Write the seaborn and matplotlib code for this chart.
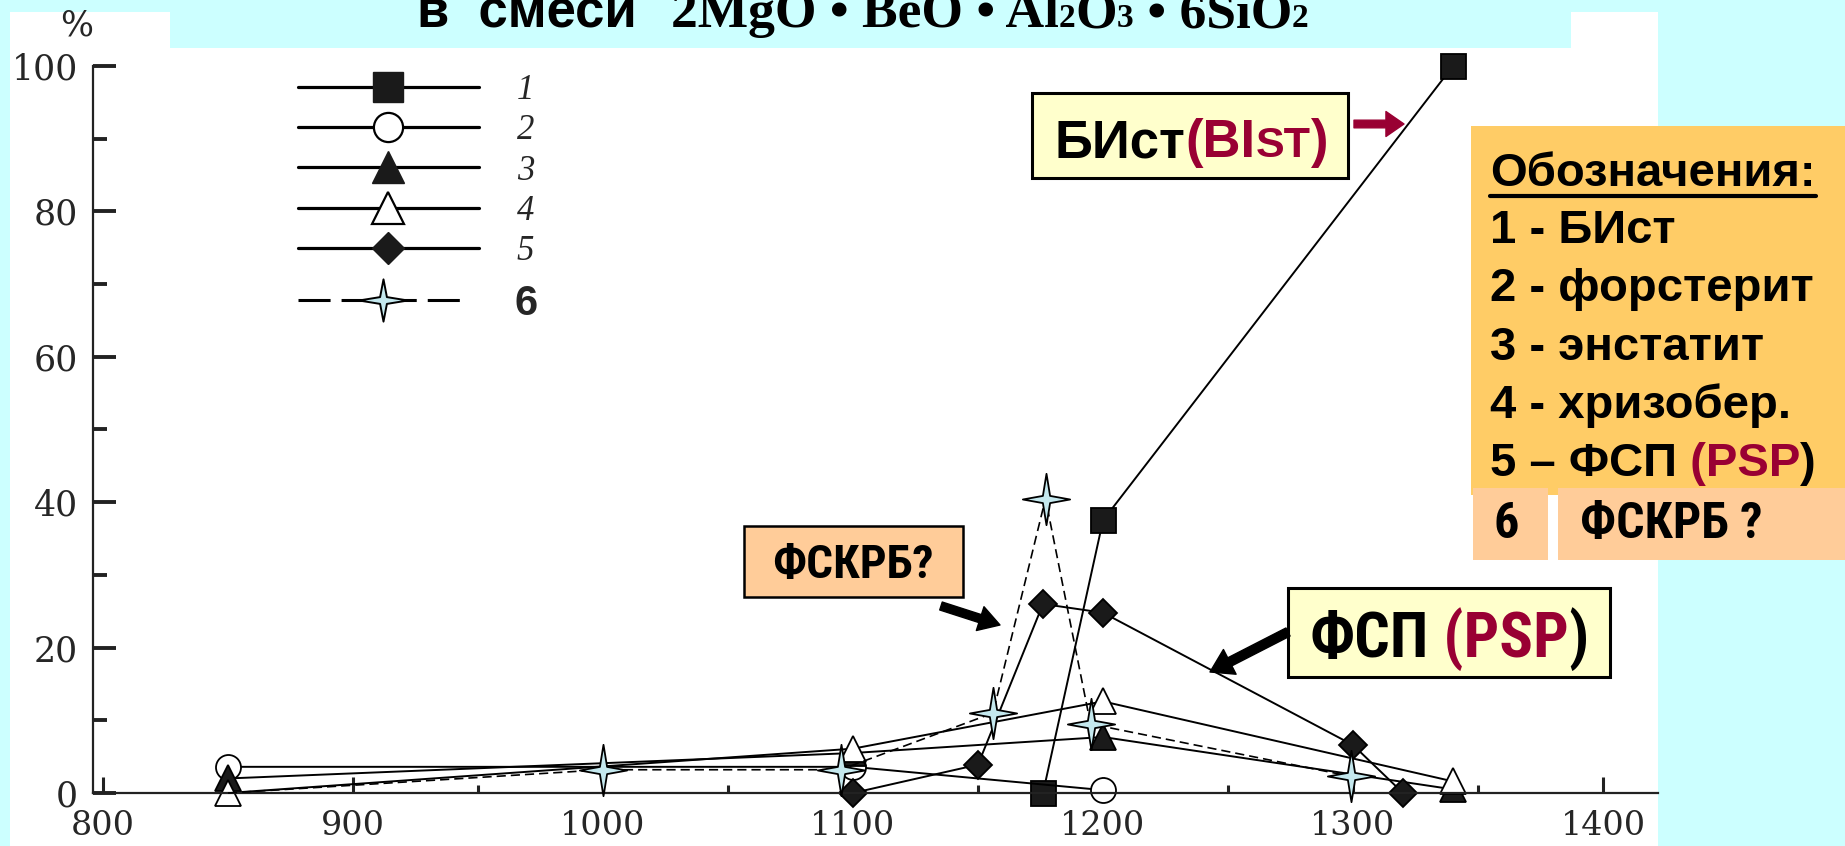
import matplotlib
matplotlib.use("Agg")
import numpy as np
import seaborn as sns
import matplotlib.pyplot as plt
from matplotlib.lines import Line2D
from matplotlib.patches import Rectangle, FancyArrowPatch
from matplotlib.path import Path
from matplotlib import font_manager

W, H = 1845, 846

# --- data (temperature, %) ---
t_bist = [1176, 1200, 1340]
bist = [0, 37.5, 100]
t_forst = [850, 1100, 1200]
forst = [3.6, 3.6, 0.4]
t_enst = [850, 1100, 1200, 1340]
enst = [2.0, 5.5, 7.7, 0.5]
t_chrys = [850, 1100, 1200, 1340]
chrys = [0, 6.1, 12.6, 1.6]
t_psp = [1100, 1150, 1176, 1200, 1300, 1320]
psp = [0, 3.9, 26.0, 24.8, 6.6, 0]
# first point (850) is the start of the dashed line only, no star drawn there
t_fskrb = [850, 1000, 1095, 1156, 1177, 1195, 1299]
fskrb = [0, 3.2, 3.2, 11.0, 40.5, 9.5, 2.3]

legend_labels = ["1", "2", "3", "4", "5", "6"]
key_lines = ["1 - БИст", "2 - форстерит", "3 - энстатит", "4 - хризобер."]
x_ticks = [800, 900, 1000, 1100, 1200, 1300, 1400]
y_ticks = [0, 20, 40, 60, 80, 100]

CYAN = "#CCFFFF"
CRIMSON = "#990033"
YELLOW = "#FFFFCC"
PEACH = "#FFCC99"
ORANGE = "#FFCC66"
STARBLUE = "#C4E8EE"
DARK = "#1a1a1a"

sns.set_style("ticks")
plt.rcParams["font.family"] = ["DejaVu Serif"]

names = {f.name for f in font_manager.fontManager.ttflist}
NARROW = "Liberation Sans"
for cand in ["Liberation Sans Narrow", "Roboto Condensed", "Arial Narrow"]:
    if cand in names:
        NARROW = cand
        break


def star_path(wx, wy, s=0.14):
    v = [(0, wy), (s, s), (wx, 0), (s, -s), (0, -wy), (-s, -s), (-wx, 0), (-s, s), (0, wy)]
    c = [Path.MOVETO] + [Path.LINETO] * 7 + [Path.CLOSEPOLY]
    return Path(v, c)


STAR = star_path(0.92, 1.0)
STAR_LEG = star_path(1.0, 0.87)

fig = plt.figure(figsize=(W / 100, H / 100), dpi=100, facecolor=CYAN)


def fx(px):
    return px / W


def fy(py):
    return 1 - py / H


def box(x0, y0, x1, y1, fc, ec="none", lw=0, z=1):
    r = Rectangle((fx(x0), fy(y1)), (x1 - x0) / W, (y1 - y0) / H,
                  transform=fig.transFigure, facecolor=fc, edgecolor=ec,
                  linewidth=lw, zorder=z)
    fig.add_artist(r)


def rich(x_px, y_px, pieces, ha="left", **common):
    r = fig.canvas.get_renderer()
    texts, widths = [], []
    for s, kw in pieces:
        if isinstance(s, (int, float)):
            texts.append(None)
            widths.append(s)
            continue
        t = fig.text(0, fy(y_px), s, va="baseline", ha="left", **{**common, **kw})
        texts.append(t)
        widths.append(t.get_window_extent(r).width)
    total = sum(widths)
    cur = x_px - (total / 2 if ha == "center" else 0)
    start = cur
    for t, w in zip(texts, widths):
        if t is not None:
            t.set_x(fx(cur))
        cur += w
    return start, total


# background panels
box(10, 12, 1658, 846, "white", z=-10)
box(170, 0, 1571, 48, CYAN, z=-9)

ax = fig.add_axes([fx(93), fy(793), (1658 - 93) / W, (793 - 66) / H])
ax.set_facecolor("none")


def draw(x, y, **kw):
    sns.lineplot(x=x, y=y, ax=ax, estimator=None, sort=False, legend=False,
                 color="black", linewidth=1.4, clip_on=False,
                 markeredgecolor="black", markeredgewidth=1.3, **kw)
    return ax.lines[-1]


draw(t_bist, bist, marker="s", markersize=18, markerfacecolor=DARK)
draw(t_forst, forst, marker="o", markersize=18, markerfacecolor="white")
draw(t_enst, enst, marker="^", markersize=19, markerfacecolor=DARK)
draw(t_chrys, chrys, marker="^", markersize=19, markerfacecolor="white")
draw(t_psp, psp, marker="D", markersize=14.5, markerfacecolor=DARK)
ln = draw(t_fskrb, fskrb, marker=STAR, markersize=37, markerfacecolor=STARBLUE,
          linestyle="--", zorder=3, markevery=list(range(1, len(t_fskrb))))
ln.set_linewidth(1.2)
ln.set_dashes([5.5, 3.0])

ax.set_xlim(796, 1422)
ax.set_ylim(0, 100)
ax.set_xticks(x_ticks)
ax.set_xticks(np.array(x_ticks[:-1]) + 50, minor=True)
ax.set_yticks(y_ticks)
ax.set_yticks(np.array(y_ticks[:-1]) + 10, minor=True)
for s in ["top", "right"]:
    ax.spines[s].set_visible(False)
for s in ["left", "bottom"]:
    ax.spines[s].set_linewidth(1.6)
    ax.spines[s].set_color("#222222")
ax.tick_params(axis="y", which="major", direction="in", length=16.5, width=2.8,
               labelsize=25, pad=11, color="#222222")
ax.tick_params(axis="y", which="minor", direction="in", length=10, width=2.8,
               color="#222222")
ax.tick_params(axis="x", which="major", direction="in", length=11.5, width=2.2,
               labelsize=24, pad=12, color="#222222")
ax.tick_params(axis="x", which="minor", direction="in", length=6, width=2.2,
               color="#222222")
ax.set_xlabel("")
ax.set_ylabel("")
fig.text(fx(77), fy(25), "%", ha="center", va="center", fontsize=25)

# legend (symbols 1-5, then 6)
handles = [
    Line2D([], [], color="black", lw=2.3, marker="s", ms=21, mfc=DARK, mec=DARK),
    Line2D([], [], color="black", lw=2.3, marker="o", ms=21, mfc="white", mec="black", mew=1.6),
    Line2D([], [], color="black", lw=2.3, marker="^", ms=23, mfc=DARK, mec=DARK),
    Line2D([], [], color="black", lw=2.3, marker="^", ms=23, mfc="white", mec="black", mew=1.6),
    Line2D([], [], color="black", lw=2.3, marker="D", ms=16, mfc=DARK, mec=DARK),
]
leg1 = ax.legend(handles=handles, labels=legend_labels[:5], loc="upper left",
                 bbox_to_anchor=(fx(298), fy(74)), bbox_transform=fig.transFigure,
                 frameon=False, borderpad=0, borderaxespad=0, handlelength=5.2,
                 handletextpad=1.1, labelspacing=0.21, numpoints=1,
                 prop=dict(family="Liberation Serif", style="italic", size=25))
ax.add_artist(leg1)
h6 = Line2D([], [], color="black", lw=2.2, dashes=(10.5, 3.6), marker=STAR_LEG,
            ms=35, mfc=STARBLUE, mec="black", mew=1.4)
leg2 = ax.legend(handles=[h6], labels=legend_labels[5:], loc="upper left",
                 bbox_to_anchor=(fx(298), fy(284)), bbox_transform=fig.transFigure,
                 frameon=False, borderpad=0, borderaxespad=0, handlelength=4.1,
                 handletextpad=1.1, numpoints=1,
                 prop=dict(family="Liberation Sans", weight="bold", size=30))

# title (cut off at the top, as in the source slide)
SANS_B = dict(family="Liberation Sans", weight="bold")
SER_B = dict(family=["Liberation Serif", "DejaVu Serif"], weight="bold")
rich(417, 27, [
    ("в  смеси", dict(**SANS_B, fontsize=38)),
    (34, None),
    ("2MgO • BeO • Al", dict(**SER_B, fontsize=38.5)),
    ("2", dict(**SER_B, fontsize=24)),
    ("O", dict(**SER_B, fontsize=38.5)),
    ("3", dict(**SER_B, fontsize=24)),
    (" • 6SiO", dict(**SER_B, fontsize=38.5)),
    ("2", dict(**SER_B, fontsize=24)),
], color="black")

# BIST box + arrow
box(1032, 93, 1348, 178, YELLOW, ec="black", lw=2.2, z=4)
rich(1055, 157, [
    ("БИст", dict(color="black", fontsize=38)),
    ("(BI", dict(color=CRIMSON, fontsize=38)),
    ("ST", dict(color=CRIMSON, fontsize=31)),
    (")", dict(color=CRIMSON, fontsize=38)),
], zorder=5, **SANS_B)
fig.add_artist(FancyArrowPatch((fx(1354), fy(124)), (fx(1404), fy(124)),
                               transform=fig.transFigure, color=CRIMSON,
                               arrowstyle="simple,head_length=1.3,head_width=1.8,tail_width=0.55",
                               mutation_scale=10, shrinkA=0, shrinkB=0, zorder=5))

# FSKRB? box + arrow
box(744, 526, 963, 597, PEACH, ec="black", lw=1.8, z=4)
rich(853, 578, [("ФСКРБ?", dict(color="black"))], ha="center",
     family=NARROW, weight="bold", fontsize=34, zorder=5)
fig.add_artist(FancyArrowPatch((fx(941), fy(606)), (fx(1000), fy(625)),
                               transform=fig.transFigure, color="black",
                               arrowstyle="simple,head_length=1.5,head_width=1.8,tail_width=0.6",
                               mutation_scale=10, shrinkA=0, shrinkB=0, zorder=5))

# PSP box + arrow
box(1288, 588, 1610, 677, YELLOW, ec="black", lw=2.2, z=4)
rich(1449, 657, [
    ("ФСП", dict(color="black")),
    (" (PSP", dict(color=CRIMSON)),
    (")", dict(color="black")),
], ha="center", family=NARROW, weight="bold", fontsize=45, zorder=5)
fig.add_artist(FancyArrowPatch((fx(1288), fy(632)), (fx(1210), fy(672)),
                               transform=fig.transFigure, color="black",
                               arrowstyle="simple,head_length=1.6,head_width=2.0,tail_width=0.65",
                               mutation_scale=10, shrinkA=0, shrinkB=0, zorder=5))

# key panel on the right
box(1471, 126, 1845, 495, ORANGE, z=4)
box(1473, 488, 1548, 560, PEACH, z=4)
box(1558, 488, 1845, 560, PEACH, z=4)
KEY = dict(zorder=5, fontsize=34, **SANS_B)
x0, wd = rich(1490, 186, [("Обозначения:", dict(color="black"))], **KEY)
fig.add_artist(Line2D([fx(x0), fx(x0 + wd)], [fy(196)] * 2, transform=fig.transFigure,
                      color="black", lw=3, zorder=5))
for i, line in enumerate(key_lines):
    rich(1490, 243 + 58.25 * i, [(line, dict(color="black"))], **KEY)
rich(1490, 476, [
    ("5 – ФСП", dict(color="black")),
    (" (PSP", dict(color=CRIMSON)),
    (")", dict(color="black")),
], **KEY)
rich(1493, 538, [("6", dict(color="black"))], zorder=5, family=NARROW,
     weight="bold", fontsize=36)
rich(1580, 538, [("ФСКРБ ?", dict(color="black"))], zorder=5, family=NARROW,
     weight="bold", fontsize=36)

fig.savefig("out.png", dpi=100, facecolor=CYAN)
